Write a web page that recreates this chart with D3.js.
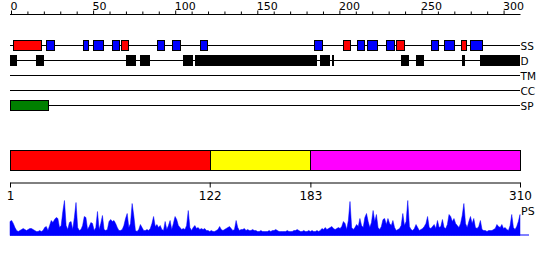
<!DOCTYPE html>
<html>
<head>
<meta charset="utf-8">
<script src="https://cdn.jsdelivr.net/npm/d3@7"></script>
<style>
  body { margin: 0; background: #fff; }
  svg { display: block; font-family: "DejaVu Sans", sans-serif; }
</style>
</head>
<body>
<div id="chart"></div>
<script>
const seqLength = 310

const tracks = ['SS', 'D', 'TM', 'CC', 'SP']

// secondary structure: [start, end, type]
const ssSegments = [
  [3, 20, 'H'], [23, 28, 'E'], [45, 48, 'E'], [51, 57, 'E'], [63, 67, 'E'],
  [68, 72, 'H'], [90, 94, 'E'], [99, 104, 'E'], [116, 120, 'E'], [185, 190, 'E'],
  [203, 207, 'H'], [211, 215, 'E'], [217, 223, 'E'], [229, 234, 'E'], [235, 240, 'H'],
  [256, 260, 'E'], [264, 270, 'E'], [274, 277, 'H'], [280, 287, 'E'],
]

// disorder
const disorderSegments = [
  [1, 5], [17, 22], [71, 77], [80, 86], [106, 112], [113, 187],
  [189, 195], [196, 197], [238, 243], [247, 252], [275, 277], [286, 310],
]

const tmSegments = []
const ccSegments = []
const spSegments = [[1, 24]]

const domains = [
  { start: 1, end: 122, color: '#ff0000' },
  { start: 122, end: 183, color: '#ffff00' },
  { start: 183, end: 310, color: '#ff00ff' },
]
const domainTicks = [1, 122, 183, 310]

// PS score per residue 1..310
const psScores = [
  14, 15, 12, 8, 5, 4, 5, 6, 7, 6, 5, 6, 7, 7, 6, 5, 4, 4, 5, 4,
  5, 8, 9, 5, 10, 15, 13, 16, 18, 17, 8, 10, 24, 35, 10, 6, 13, 14, 6, 18,
  33, 8, 5, 6, 10, 19, 18, 6, 9, 13, 12, 5, 8, 24, 6, 12, 20, 6, 5, 6,
  14, 16, 14, 15, 12, 8, 5, 5, 6, 10, 17, 22, 8, 12, 32, 20, 5, 4, 6, 11,
  8, 5, 5, 6, 5, 7, 12, 19, 9, 11, 8, 10, 6, 5, 14, 6, 10, 15, 6, 12,
  19, 16, 10, 8, 6, 7, 6, 10, 25, 8, 5, 8, 10, 7, 8, 6, 7, 6, 7, 5,
  5, 4, 5, 4, 4, 5, 6, 9, 6, 5, 6, 7, 8, 9, 7, 5, 6, 15, 8, 5,
  6, 6, 7, 5, 6, 5, 5, 6, 5, 5, 4, 4, 5, 4, 4, 4, 4, 5, 4, 5,
  5, 6, 5, 4, 4, 4, 4, 4, 5, 4, 4, 4, 5, 5, 6, 5, 4, 4, 5, 4,
  4, 5, 4, 5, 4, 4, 5, 4, 5, 7, 6, 8, 6, 7, 8, 9, 7, 6, 7, 8,
  7, 9, 14, 12, 6, 15, 34, 8, 6, 8, 11, 9, 17, 10, 8, 18, 22, 14, 8, 13,
  25, 14, 21, 8, 6, 9, 16, 17, 11, 17, 12, 10, 15, 8, 5, 6, 7, 10, 22, 10,
  14, 35, 9, 6, 5, 7, 11, 8, 5, 6, 7, 9, 12, 19, 8, 7, 9, 11, 7, 15,
  8, 9, 16, 8, 7, 11, 21, 19, 14, 17, 12, 10, 8, 12, 20, 32, 12, 8, 14, 19,
  12, 17, 8, 7, 9, 15, 6, 5, 5, 4, 5, 5, 5, 6, 7, 11, 9, 8, 11, 7,
  8, 6, 5, 10, 21, 8, 6, 9, 14, 21,
]

const ssColors = { H: '#ff0000', E: '#0000ff' }

const width = 550
const height = 260

const svg = d3.select('#chart')
  .append('svg')
  .attr('width', width)
  .attr('height', height)

svg.append('rect').attr('width', width).attr('height', height).attr('fill', '#fff')

// residue scale shared by tracks, domains and PS profile
const x = d3.scaleLinear().domain([1, seqLength]).range([10, 520])
const xTop = d3.scaleLinear().domain([0, seqLength]).range([11, 520])

// -- ruler on top
const ruler = svg.append('g')
  .attr('transform', 'translate(0,14.5)')
  .call(d3.axisTop(xTop)
    .tickValues(d3.range(0, 301, 10))
    .tickSize(3)
    .tickSizeOuter(0)
    .tickFormat((d) => (d % 50 === 0 ? d : '')))
ruler.select('.domain').attr('d', `M10,0H${xTop(seqLength) + 0.5}`)
ruler.selectAll('.tick line').filter((d) => d % 50 === 0).attr('y2', -4)
ruler.selectAll('.tick text')
  .attr('text-anchor', 'start')
  .attr('x', -1)
  .attr('y', -4.5)
  .attr('dy', 0)
  .attr('font-size', 11)
  .attr('font-family', '"DejaVu Sans", sans-serif')
  .attr('fill', '#000')

// -- feature tracks
const trackY = d3.scalePoint().domain(tracks).range([45.5, 105.5])

tracks.forEach((t) => {
  svg.append('line')
    .attr('x1', x(1))
    .attr('x2', x(seqLength))
    .attr('y1', trackY(t))
    .attr('y2', trackY(t))
    .attr('stroke', '#000')
    .attr('stroke-width', 1)
  svg.append('text')
    .attr('x', x(seqLength) + 0.5)
    .attr('y', trackY(t) + 4)
    .attr('font-size', 10.5)
    .attr('fill', '#000')
    .text(t)
})

ssSegments.forEach(([s, e, type]) => {
  svg.append('rect')
    .attr('x', Math.round(x(s)) + 0.5)
    .attr('y', trackY('SS') - 5)
    .attr('width', Math.round(x(e) - x(s)))
    .attr('height', 10)
    .attr('fill', ssColors[type])
    .attr('stroke', '#000')
})

disorderSegments.forEach(([s, e]) => {
  svg.append('rect')
    .attr('x', Math.round(x(s)))
    .attr('y', trackY('D') - 5.5)
    .attr('width', Math.max(2, Math.round(x(e) - x(s))))
    .attr('height', 11)
    .attr('fill', '#000')
})

const drawBoxes = (segs, track, color) => {
  segs.forEach(([s, e]) => {
    svg.append('rect')
      .attr('x', Math.round(x(s)) + 0.5)
      .attr('y', trackY(track) - 5)
      .attr('width', Math.round(x(e) - x(s)))
      .attr('height', 10)
      .attr('fill', color)
      .attr('stroke', '#000')
  })
}
drawBoxes(tmSegments, 'TM', '#808080')
drawBoxes(ccSegments, 'CC', '#808080')
drawBoxes(spSegments, 'SP', '#008000')

// -- domain bar
domains.forEach(({ start, end, color }) => {
  svg.append('rect')
    .attr('x', Math.round(x(start)) + 0.5)
    .attr('y', 150.5)
    .attr('width', Math.round(x(end) - x(start)))
    .attr('height', 20)
    .attr('fill', color)
    .attr('stroke', '#000')
})

const domAxis = svg.append('g')
  .attr('transform', 'translate(0,182.5)')
  .call(d3.axisBottom(x)
    .tickValues(domainTicks)
    .tickSize(5)
    .tickSizeOuter(0)
    .tickFormat((d) => d))
domAxis.selectAll('.tick text')
  .attr('y', 17.5)
  .attr('dy', 0)
  .attr('font-size', 12)
  .attr('font-family', '"DejaVu Sans", sans-serif')
  .attr('fill', '#000')

// -- PS profile
const y = d3.scaleLinear().domain([0, 36]).range([235.5, 199.5])

const area = d3.area()
  .x((d, i) => x(i + 1))
  .y0(y(0))
  .y1((d) => y(d))

svg.append('path')
  .datum(psScores)
  .attr('fill', '#0000ff')
  .attr('stroke', '#0000ff')
  .attr('stroke-width', 0.5)
  .attr('d', area)

svg.append('line')
  .attr('x1', x(1))
  .attr('x2', x(seqLength) + 9)
  .attr('y1', y(0) - 0.5)
  .attr('y2', y(0) - 0.5)
  .attr('stroke', '#0000ff')

svg.append('text')
  .attr('x', x(seqLength) + 1)
  .attr('y', 215)
  .attr('font-size', 11)
  .attr('fill', '#000')
  .text('PS')
</script>
</body>
</html>
